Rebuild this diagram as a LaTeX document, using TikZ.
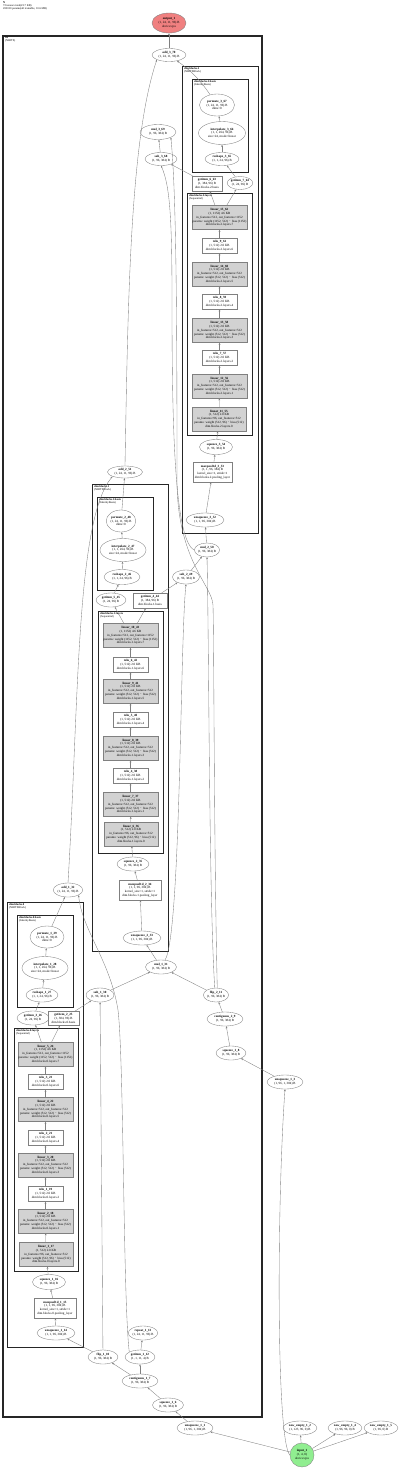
\documentclass[tikz,border=0pt]{standalone}
\usepackage{fontspec}
\setmainfont{Liberation Serif}
\usetikzlibrary{shapes.geometric,arrows.meta}
\definecolor{outred}{HTML}{F08080}
\definecolor{ingreen}{HTML}{90EE90}
\begin{document}
\begin{tikzpicture}[x=1pt,y=-1pt,
  every node/.style={font=\fontsize{3.2}{3.8}\selectfont, align=center, inner sep=0pt},
  ell/.style={ellipse, draw=black!50, line width=0.35pt},
  rbox/.style={rectangle, draw=black!50, line width=0.35pt},
  lbox/.style={rbox, fill=gray!35, minimum width=55pt, minimum height=24pt},
  relubox/.style={rbox, fill=white, minimum width=35pt, minimum height=15pt},
  clus/.style={draw=black!85, line width=0.9pt},
  clab/.style={anchor=north west, font=\fontsize{2.8}{3.2}\selectfont, align=left},
  conn/.style={draw=black!50, line width=0.35pt, -{Stealth[length=2.2pt,width=1.8pt]}},
]
\useasboundingbox (0,0) rectangle (400,1468);

% header
\node[anchor=north west, align=left, font=\fontsize{2.8}{3.3}\selectfont] (hdr) at (3,1) {\textbf{N}\\72 tensors total(23.7 KB)\\203010 params(all trainable, 10.6 MB)};

% clusters
\draw[clus, line width=1.3pt] (3,36) rectangle (262,1417);
\node[clab] (ltts) at (5,37) {\textbf{tts}\\(NHITS)};
\draw[clus] (182,66) rectangle (258,533);
\node[clab] (lb2) at (184,67) {\textbf{dim.blocks.2}\\(NHITSBlock)};
\draw[clus] (192,79) rectangle (248,172);
\node[clab] (lb2b) at (194,80) {\textbf{dim.blocks.2.basis}\\(IdentityBasis)};
\draw[clus] (187,193) rectangle (252,435);
\node[clab] (lb2l) at (189,194) {\textbf{dim.blocks.2.layers}\\(Sequential)};
\draw[clus] (92,484) rectangle (168,951);
\node[clab] (lb1) at (94,485) {\textbf{dim.blocks.1}\\(NHITSBlock)};
\draw[clus] (97,497) rectangle (153,590);
\node[clab] (lb1b) at (99,498) {\textbf{dim.blocks.1.basis}\\(IdentityBasis)};
\draw[clus] (98,611) rectangle (163,853);
\node[clab] (lb1l) at (100,612) {\textbf{dim.blocks.1.layers}\\(Sequential)};
\draw[clus] (7,902) rectangle (83,1347);
\node[clab] (lb0) at (9,903) {\textbf{dim.blocks.0}\\(NHITSBlock)};
\draw[clus] (17,915) rectangle (73,1007);
\node[clab] (lb0b) at (19,916) {\textbf{dim.blocks.0.basis}\\(IdentityBasis)};
\draw[clus] (14,1028) rectangle (78,1271);
\node[clab] (lb0l) at (16,1029) {\textbf{dim.blocks.0.layers}\\(Sequential)};

% top
\node[ell, fill=outred, minimum width=34pt, minimum height=20pt] (output1) at (169,23) {\textbf{output\_1}\\(1, 24, 11, 96) B\\device:cpu};
\node[ell, minimum width=34pt, minimum height=13pt] (add370) at (169,55) {\textbf{add\_3\_70}\\(1, 24, 11, 96) B};

% block 2
\node[ell, minimum width=35pt, minimum height=22pt] (permute367) at (217,105) {\textbf{permute\_3\_67}\\(1, 24, 11, 96) B\\dims=0};
\node[ell, minimum width=47pt, minimum height=23pt] (interp366) at (222,133) {\textbf{interpolate\_3\_66}\\(1, 1, 264, 96) B\\size=24, mode=linear};
\node[ell, minimum width=34pt, minimum height=13pt] (reshape365) at (222,159) {\textbf{reshape\_3\_65}\\(1, 1, 24, 96) B};
\node[ell, minimum width=36pt, minimum height=15pt] (mul369) at (158,132) {\textbf{mul\_3\_69}\\(1, 96, 384) B};
\node[ell, minimum width=32pt, minimum height=13pt] (sub368) at (161,159) {\textbf{sub\_3\_68}\\(1, 96, 384) B};
\node[ell, minimum width=25pt, minimum height=13pt] (getitem764) at (240,183) {\textbf{getitem\_7\_64}\\(1, 24, 96) B};
\node[rbox, minimum width=30pt, minimum height=15pt] (getitem663) at (207,183.5) {\textbf{getitem\_6\_63}\\(1, 384, 96) B\\dim.blocks.2.basis};
\node[lbox] (linear1562) at (219.5,217.5) {\textbf{linear\_15\_62}\\(1, 1152) 4.6 KB\\in\_features=512, out\_features=1152\\params: weight (1152, 512) $\cdot$ bias (1152)\\dim.blocks.2.layers.7};
\node[relubox] (relu961) at (219.5,245.5) {\textbf{relu\_9\_61}\\(1, 512) 2.0 KB\\dim.blocks.2.layers.6};
\node[lbox] (linear1460) at (219.5,274) {\textbf{linear\_14\_60}\\(1, 512) 2.0 KB\\in\_features=512, out\_features=512\\params: weight (512, 512) $\cdot$ bias (512)\\dim.blocks.2.layers.5};
\node[relubox] (relu859) at (219.5,301.5) {\textbf{relu\_8\_59}\\(1, 512) 2.0 KB\\dim.blocks.2.layers.4};
\node[lbox] (linear1358) at (219.5,330.5) {\textbf{linear\_13\_58}\\(1, 512) 2.0 KB\\in\_features=512, out\_features=512\\params: weight (512, 512) $\cdot$ bias (512)\\dim.blocks.2.layers.3};
\node[relubox] (relu757) at (219.5,358) {\textbf{relu\_7\_57}\\(1, 512) 2.0 KB\\dim.blocks.2.layers.2};
\node[lbox] (linear1256) at (219.5,386) {\textbf{linear\_12\_56}\\(1, 512) 2.0 KB\\in\_features=512, out\_features=512\\params: weight (512, 512) $\cdot$ bias (512)\\dim.blocks.2.layers.1};
\node[lbox, minimum width=54pt] (linear1155) at (219,419) {\textbf{linear\_11\_55}\\(1, 512) 2.0 KB\\in\_features=96, out\_features=512\\params: weight (512, 96) $\cdot$ bias (512)\\dim.blocks.2.layers.0};
\node[ell, minimum width=33pt, minimum height=15pt] (squeeze354) at (216,447) {\textbf{squeeze\_3\_54}\\(1, 96, 384) B};
\node[rbox, minimum width=39pt, minimum height=20pt] (maxpool353) at (212.5,472) {\textbf{maxpool1d\_3\_53}\\(1, 1, 96, 384) B\\kernel\_size=1, stride=1\\dim.blocks.2.pooling\_layer};
\node[ell, minimum width=38pt, minimum height=14pt] (unsq352) at (205,520) {\textbf{unsqueeze\_3\_52}\\(1, 1, 96, 384) B};

% level 1
\node[ell, minimum width=35pt, minimum height=12pt] (add251) at (125,472) {\textbf{add\_2\_51}\\(1, 24, 11, 96) B};
\node[ell, minimum width=25pt, minimum height=14pt] (mul250) at (207,550) {\textbf{mul\_2\_50}\\(1, 96, 384) B};
\node[ell, minimum width=27pt, minimum height=14pt] (sub249) at (186,577) {\textbf{sub\_2\_49}\\(1, 96, 384) B};
\node[ell, minimum width=27pt, minimum height=22pt] (permute248) at (121,521) {\textbf{permute\_2\_48}\\(1, 24, 11, 96) B\\dims=0};
\node[ell, minimum width=46pt, minimum height=23pt] (interp247) at (123,550) {\textbf{interpolate\_2\_47}\\(1, 1, 264, 96) B\\size=24, mode=linear};
\node[ell, minimum width=36pt, minimum height=15pt] (reshape246) at (122,577) {\textbf{reshape\_2\_46}\\(1, 1, 24, 96) B};
\node[ell, minimum width=30pt, minimum height=14pt] (getitem545) at (111,600) {\textbf{getitem\_5\_45}\\(1, 24, 96) B};
\node[rbox, minimum width=34pt, minimum height=15pt] (getitem444) at (150,600.5) {\textbf{getitem\_4\_44}\\(1, 384, 96) B\\dim.blocks.1.basis};
\node[lbox] (linear1043) at (130.5,635.5) {\textbf{linear\_10\_43}\\(1, 1152) 4.6 KB\\in\_features=512, out\_features=1152\\params: weight (1152, 512) $\cdot$ bias (1152)\\dim.blocks.1.layers.7};
\node[relubox] (relu642) at (130.5,664.5) {\textbf{relu\_6\_42}\\(1, 512) 2.0 KB\\dim.blocks.1.layers.6};
\node[lbox] (linear941) at (130.5,691) {\textbf{linear\_9\_41}\\(1, 512) 2.0 KB\\in\_features=512, out\_features=512\\params: weight (512, 512) $\cdot$ bias (512)\\dim.blocks.1.layers.5};
\node[relubox] (relu540) at (130.5,719.5) {\textbf{relu\_5\_40}\\(1, 512) 2.0 KB\\dim.blocks.1.layers.4};
\node[lbox] (linear839) at (130.5,748) {\textbf{linear\_8\_39}\\(1, 512) 2.0 KB\\in\_features=512, out\_features=512\\params: weight (512, 512) $\cdot$ bias (512)\\dim.blocks.1.layers.3};
\node[relubox] (relu438) at (130.5,775.5) {\textbf{relu\_4\_38}\\(1, 512) 2.0 KB\\dim.blocks.1.layers.2};
\node[lbox] (linear737) at (130.5,804.5) {\textbf{linear\_7\_37}\\(1, 512) 2.0 KB\\in\_features=512, out\_features=512\\params: weight (512, 512) $\cdot$ bias (512)\\dim.blocks.1.layers.1};
\node[lbox, minimum width=54pt] (linear636) at (131,834) {\textbf{linear\_6\_36}\\(1, 512) 2.0 KB\\in\_features=96, out\_features=512\\params: weight (512, 96) $\cdot$ bias (512)\\dim.blocks.1.layers.0};
\node[ell, minimum width=32pt, minimum height=14pt] (squeeze235) at (133,864) {\textbf{squeeze\_2\_35}\\(1, 96, 384) B};
\node[rbox, minimum width=42pt, minimum height=20pt] (maxpool234) at (140,890) {\textbf{maxpool1d\_2\_34}\\(1, 1, 96, 384) B\\kernel\_size=1, stride=1\\dim.blocks.1.pooling\_layer};
\node[ell, minimum width=38pt, minimum height=14pt] (unsq233) at (142,938) {\textbf{unsqueeze\_2\_33}\\(1, 1, 96, 384) B};

% level 0
\node[ell, minimum width=27pt, minimum height=14pt] (add132) at (68,890) {\textbf{add\_1\_32}\\(1, 24, 11, 96) B};
\node[ell, minimum width=31pt, minimum height=14pt] (mul131) at (161,967) {\textbf{mul\_1\_31}\\(1, 96, 384) B};
\node[ell, minimum width=28pt, minimum height=14pt] (sub130) at (100,995) {\textbf{sub\_1\_30}\\(1, 96, 384) B};
\node[ell, minimum width=34pt, minimum height=22pt] (permute129) at (47,937) {\textbf{permute\_1\_29}\\(1, 24, 11, 96) B\\dims=0};
\node[ell, minimum width=46pt, minimum height=23pt] (interp128) at (45,968) {\textbf{interpolate\_1\_28}\\(1, 1, 264, 96) B\\size=24, mode=linear};
\node[ell, minimum width=32pt, minimum height=14pt] (reshape127) at (42,995) {\textbf{reshape\_1\_27}\\(1, 1, 24, 96) B};
\node[ell, minimum width=32pt, minimum height=14pt] (getitem326) at (33,1018) {\textbf{getitem\_3\_26}\\(1, 24, 96) B};
\node[rbox, minimum width=31pt, minimum height=14pt] (getitem225) at (63.5,1018.5) {\textbf{getitem\_2\_25}\\(1, 384, 96) B\\dim.blocks.0.basis};
\node[lbox] (linear524) at (45.5,1054) {\textbf{linear\_5\_24}\\(1, 1152) 4.6 KB\\in\_features=512, out\_features=1152\\params: weight (1152, 512) $\cdot$ bias (1152)\\dim.blocks.0.layers.7};
\node[relubox] (relu323) at (45.5,1082) {\textbf{relu\_3\_23}\\(1, 512) 2.0 KB\\dim.blocks.0.layers.6};
\node[lbox] (linear422) at (45.5,1109.5) {\textbf{linear\_4\_22}\\(1, 512) 2.0 KB\\in\_features=512, out\_features=512\\params: weight (512, 512) $\cdot$ bias (512)\\dim.blocks.0.layers.5};
\node[relubox] (relu221) at (45.5,1137.5) {\textbf{relu\_2\_21}\\(1, 512) 2.0 KB\\dim.blocks.0.layers.4};
\node[lbox] (linear320) at (45.5,1165) {\textbf{linear\_3\_20}\\(1, 512) 2.0 KB\\in\_features=512, out\_features=512\\params: weight (512, 512) $\cdot$ bias (512)\\dim.blocks.0.layers.3};
\node[relubox] (relu119) at (45.5,1194) {\textbf{relu\_1\_19}\\(1, 512) 2.0 KB\\dim.blocks.0.layers.2};
\node[lbox] (linear218) at (45.5,1221) {\textbf{linear\_2\_18}\\(1, 512) 2.0 KB\\in\_features=512, out\_features=512\\params: weight (512, 512) $\cdot$ bias (512)\\dim.blocks.0.layers.1};
\node[lbox, minimum width=54pt] (linear117) at (46,1254.5) {\textbf{linear\_1\_17}\\(1, 512) 2.0 KB\\in\_features=96, out\_features=512\\params: weight (512, 96) $\cdot$ bias (512)\\dim.blocks.0.layers.0};
\node[ell, minimum width=33pt, minimum height=15pt] (squeeze116) at (49,1282) {\textbf{squeeze\_1\_16}\\(1, 96, 384) B};
\node[rbox, minimum width=42pt, minimum height=20pt] (maxpool115) at (55,1308) {\textbf{maxpool1d\_1\_15}\\(1, 1, 96, 384) B\\kernel\_size=1, stride=1\\dim.blocks.0.pooling\_layer};
\node[ell, minimum width=38pt, minimum height=14pt] (unsq114) at (56,1333) {\textbf{unsqueeze\_1\_14}\\(1, 1, 96, 384) B};

% bottom / inputs
\node[ell, minimum width=24pt, minimum height=14pt] (flip211) at (216,995) {\textbf{flip\_2\_11}\\(1, 96, 384) B};
\node[ell, minimum width=36pt, minimum height=14pt] (contig29) at (225,1019) {\textbf{contiguous\_2\_9}\\(1, 96, 384) B};
\node[ell, minimum width=30pt, minimum height=14pt] (squeeze18) at (231,1053) {\textbf{squeeze\_1\_8}\\(1, 96, 384) B};
\node[ell, minimum width=36pt, minimum height=14pt] (unsq13) at (285,1082) {\textbf{unsqueeze\_1\_3}\\(1, 96, 1, 384) B};
\node[ell, minimum width=30pt, minimum height=14pt] (flip110) at (103,1357) {\textbf{flip\_1\_10}\\(1, 96, 384) B};
\node[ell, minimum width=27pt, minimum height=14pt] (repeat113) at (143,1333) {\textbf{repeat\_1\_13}\\(1, 24, 11, 96) B};
\node[ell, minimum width=30pt, minimum height=14pt] (getitem112) at (140,1357) {\textbf{getitem\_1\_12}\\(1, 1, 11, 4) B};
\node[ell, minimum width=36pt, minimum height=14pt] (contig17) at (140,1381) {\textbf{contiguous\_1\_7}\\(1, 96, 384) B};
\node[ell, minimum width=31pt, minimum height=14pt] (squeeze16) at (168,1405) {\textbf{squeeze\_1\_6}\\(1, 96, 384) B};
\node[ell, minimum width=36pt, minimum height=14pt] (unsq11) at (195,1428) {\textbf{unsqueeze\_1\_1}\\(1, 96, 1, 384) B};
\node[ell, minimum width=34pt, minimum height=14pt] (newempty12) at (300,1428) {\textbf{new\_empty\_1\_2}\\(1, 123, 96, 0) B};
\node[ell, minimum width=34pt, minimum height=14pt] (newempty14) at (345,1428) {\textbf{new\_empty\_1\_4}\\(1, 96, 96, 0) B};
\node[ell, minimum width=34pt, minimum height=14pt] (newempty15) at (381,1428) {\textbf{new\_empty\_1\_5}\\(1, 96, 0) B};
\node[circle, draw=black!50, line width=0.35pt, fill=ingreen, minimum size=24pt] (input1) at (302,1455) {\textbf{input\_1}\\(1, 4, 0)\\device:cpu};

% edges: inputs
\draw[conn] (input1) -- (unsq11);
\draw[conn] (input1) -- (newempty12);
\draw[conn] (input1) -- (newempty14);
\draw[conn] (input1) -- (newempty15);
\draw[conn] (input1.west) .. controls (276,1440) and (277,1200) .. (unsq13.south);
\draw[conn] (unsq11) -- (squeeze16);
\draw[conn] (squeeze16) -- (contig17);
\draw[conn] (contig17) -- (flip110);
\draw[conn] (contig17) -- (getitem112);
\draw[conn] (getitem112) -- (repeat113);
\draw[conn] (getitem112.north west) .. controls (123,1300) and (124,1060) .. (118,1010) .. controls (110,960) and (82,930) .. (add132.south east);
\draw[conn] (flip110) -- (unsq114);
\draw[conn] (flip110) -- (sub130);
\draw[conn] (unsq13) -- (squeeze18);
\draw[conn] (squeeze18) -- (contig29);
\draw[conn] (contig29) -- (flip211);

% block 0 chain
\draw[conn] (unsq114) -- (maxpool115);
\draw[conn] (maxpool115) -- (squeeze116);
\draw[conn] (squeeze116) -- (linear117);
\draw[conn] (linear117) -- (linear218);
\draw[conn] (linear218) -- (relu119);
\draw[conn] (relu119) -- (linear320);
\draw[conn] (linear320) -- (relu221);
\draw[conn] (relu221) -- (linear422);
\draw[conn] (linear422) -- (relu323);
\draw[conn] (relu323) -- (linear524);
\draw[conn] (linear524) -- (getitem326);
\draw[conn] (linear524) -- (getitem225);
\draw[conn] (getitem326) -- (reshape127);
\draw[conn] (reshape127) -- (interp128);
\draw[conn] (interp128) -- (permute129);
\draw[conn] (permute129) -- (add132);
\draw[conn] (getitem225) -- (sub130);
\draw[conn] (sub130) -- (mul131);
\draw[conn] (flip211) -- (mul131);

% level 1
\draw[conn] (mul131) -- (unsq233);
\draw[conn] (mul131.60) .. controls (181,935) and (180,640) .. (sub249.south);
\draw[conn] (flip211.100) .. controls (209,900) and (209,640) .. (mul250.south);
\draw[conn] (unsq233) -- (maxpool234);
\draw[conn] (maxpool234) -- (squeeze235);
\draw[conn] (squeeze235) -- (linear636);
\draw[conn] (linear636) -- (linear737);
\draw[conn] (linear737) -- (relu438);
\draw[conn] (relu438) -- (linear839);
\draw[conn] (linear839) -- (relu540);
\draw[conn] (relu540) -- (linear941);
\draw[conn] (linear941) -- (relu642);
\draw[conn] (relu642) -- (linear1043);
\draw[conn] (linear1043) -- (getitem545);
\draw[conn] (linear1043) -- (getitem444);
\draw[conn] (getitem545) -- (reshape246);
\draw[conn] (reshape246) -- (interp247);
\draw[conn] (interp247) -- (permute248);
\draw[conn] (permute248) -- (add251);
\draw[conn] (getitem444) -- (sub249);
\draw[conn] (sub249) -- (mul250);
\draw[conn] (add132.north) .. controls (79,700) and (76,520) .. (add251.south west);

% level 2
\draw[conn] (mul250) -- (unsq352);
\draw[conn] (mul250.west) .. controls (174,540) and (172,420) .. (172,300) .. controls (172,220) and (170,185) .. (sub368.south);
\draw[conn] (flip211.80) .. controls (214,850) and (214,640) .. (213,605) .. controls (212,585) and (177,560) .. (177,480) .. controls (177,300) and (176,190) .. (mul369.south east);
\draw[conn] (unsq352) -- (maxpool353);
\draw[conn] (maxpool353) -- (squeeze354);
\draw[conn] (squeeze354) -- (linear1155);
\draw[conn] (linear1155) -- (linear1256);
\draw[conn] (linear1256) -- (relu757);
\draw[conn] (relu757) -- (linear1358);
\draw[conn] (linear1358) -- (relu859);
\draw[conn] (relu859) -- (linear1460);
\draw[conn] (linear1460) -- (relu961);
\draw[conn] (relu961) -- (linear1562);
\draw[conn] (linear1562) -- (getitem764);
\draw[conn] (linear1562) -- (getitem663);
\draw[conn] (getitem764) -- (reshape365);
\draw[conn] (reshape365) -- (interp366);
\draw[conn] (interp366) -- (permute367);
\draw[conn] (permute367) to[bend right=10] (add370);
\draw[conn] (getitem663) -- (sub368);
\draw[conn] (sub368) -- (mul369);
\draw[conn] (add251.north) .. controls (128,300) and (130,140) .. (add370.south west);
\draw[conn] (add370) -- (output1);
\end{tikzpicture}
\end{document}
